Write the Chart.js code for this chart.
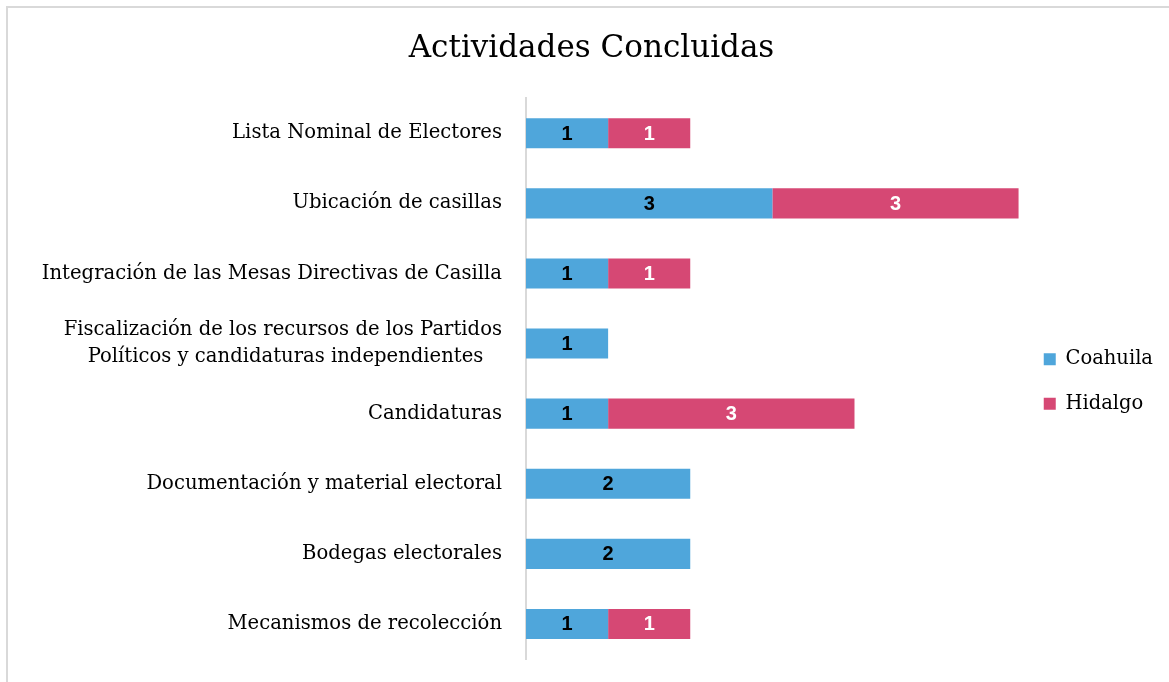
<!DOCTYPE html>
<html>
<head>
<meta charset="utf-8">
<script src="https://cdn.jsdelivr.net/npm/chart.js@4.4.0/dist/chart.umd.min.js"></script>
<style>
  html, body { margin: 0; padding: 0; background: #fff; overflow: hidden; }
  #frame { position: absolute; left: 6px; top: 6px; width: 1200px; height: 720px; border: 2px solid #d9d9d9; }
  #wrap { position: absolute; left: 0; top: 0; width: 1169px; height: 682px; }
</style>
</head>
<body>
<div id="frame"></div>
<div id="wrap"><canvas id="chart"></canvas></div>
<script>
// Categories, top to bottom (second line of the long one padded so it sits centred)
const categories = [
    'Lista Nominal de Electores',
    'Ubicación de casillas',
    'Integración de las Mesas Directivas de Casilla',
    ['Fiscalización de los recursos de los Partidos', 'Políticos y candidaturas independientes\u00a0\u00a0\u00a0'],
    'Candidaturas',
    'Documentación y material electoral',
    'Bodegas electorales',
    'Mecanismos de recolección'
];
const coahuila = [1, 3, 1, 1, 1, 2, 2, 1];
const hidalgo = [1, 3, 1, null, 3, null, null, 1];

const serif = "'DejaVu Serif', serif";

// Draw the value in the middle of each bar segment
const barLabels = {
    id: 'barLabels',
    afterDatasetsDraw(chart) {
        const ctx = chart.ctx;
        ctx.save();
        ctx.font = "bold 20px 'Liberation Sans', Arial, sans-serif";
        ctx.textAlign = 'center';
        ctx.textBaseline = 'middle';
        chart.data.datasets.forEach((ds, i) => {
            const meta = chart.getDatasetMeta(i);
            ctx.fillStyle = ds.labelColor;
            meta.data.forEach((bar, j) => {
                const v = ds.data[j];
                if (v == null) return;
                ctx.fillText(String(v), (bar.x + bar.base) / 2, bar.y + 1);
            });
        });
        ctx.restore();
    }
};

new Chart(document.getElementById('chart'), {
    type: 'bar',
    data: {
        labels: categories,
        datasets: [
            { label: 'Coahuila', data: coahuila, backgroundColor: '#4fa6db', labelColor: '#000' },
            { label: 'Hidalgo', data: hidalgo, backgroundColor: '#d64874', labelColor: '#fff' }
        ]
    },
    options: {
        indexAxis: 'y',
        responsive: true,
        maintainAspectRatio: false,
        animation: false,
        categoryPercentage: 1,
        barPercentage: 0.43,
        layout: { padding: { top: 18, bottom: 23, left: 20, right: 6 } },
        plugins: {
            title: {
                display: true,
                text: 'Actividades Concluidas',
                color: '#000',
                font: { family: serif, size: 31, weight: 'normal' },
                padding: { top: 12, bottom: 31 }
            },
            legend: {
                position: 'right',
                title: {
                    display: true,
                    text: ' ',
                    font: { size: 10 },
                    padding: { top: 0, bottom: 74 }
                },
                labels: {
                    color: '#000',
                    font: { family: serif, size: 19.5 },
                    boxWidth: 12,
                    boxHeight: 12,
                    padding: 25
                }
            },
            tooltip: { enabled: false }
        },
        scales: {
            x: {
                stacked: true,
                min: 0,
                max: 6,
                display: false
            },
            y: {
                stacked: true,
                grid: { display: false },
                border: { display: true, color: '#d9d9d9', width: 2 },
                ticks: {
                    color: '#000',
                    font: { family: serif, size: 19.6, lineHeight: 1.4 },
                    padding: 16
                },
                afterFit(scale) {
                    scale.width = 506;
                    scale.paddingTop = 0;
                    scale.paddingBottom = 0;
                }
            }
        }
    },
    plugins: [barLabels]
});
</script>
</body>
</html>
